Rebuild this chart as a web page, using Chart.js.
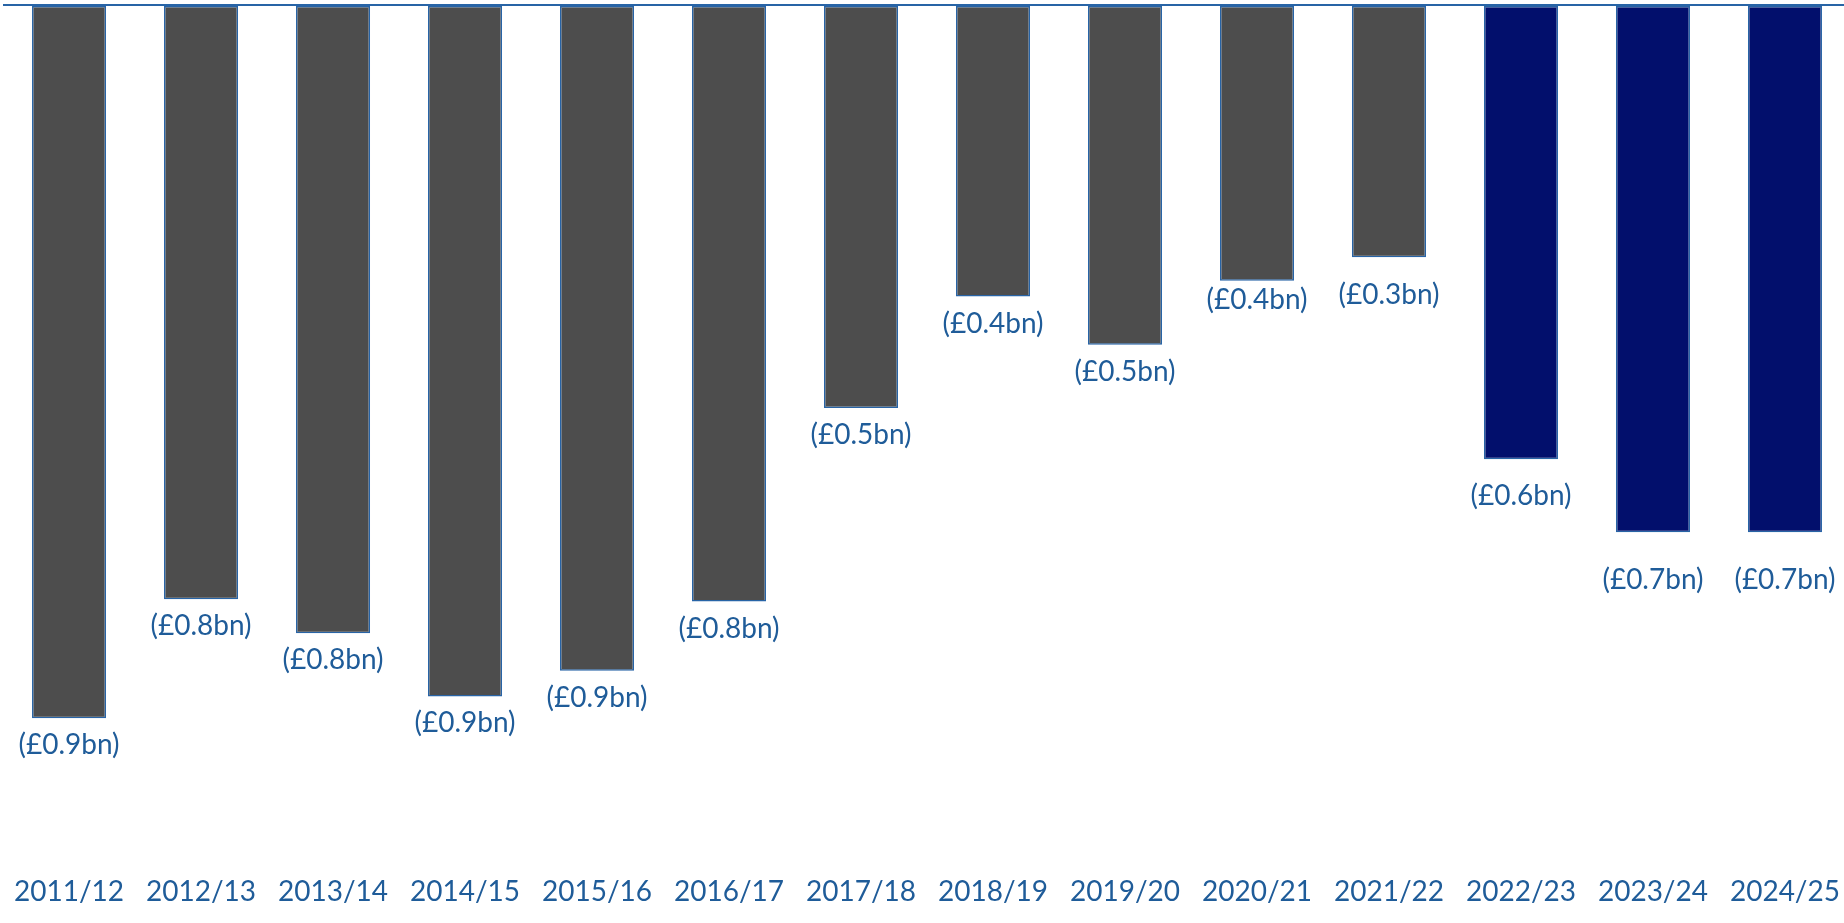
<!DOCTYPE html>
<html lang="en">
<head>
<meta charset="utf-8">
<title>Annual deficit, 2011/12 to 2024/25</title>
<script src="https://cdn.jsdelivr.net/npm/chart.js@4.4.1/dist/chart.umd.min.js"></script>
<style>
  html, body { margin: 0; padding: 0; background: #fff; overflow: hidden; }
  #wrap { position: relative; width: 1854px; height: 923px; }
</style>
</head>
<body>
<div id="wrap"><canvas id="deficit-chart"></canvas></div>
<script>
// Yearly shortfall in £bn (negative = deficit); the later years are shaded navy.
const seasons = ['2011/12', '2012/13', '2013/14', '2014/15', '2015/16', '2016/17', '2017/18',
  '2018/19', '2019/20', '2020/21', '2021/22', '2022/23', '2023/24', '2024/25'];
const deficitBn = [-0.947, -0.789, -0.834, -0.918, -0.884, -0.792, -0.535,
  -0.387, -0.451, -0.366, -0.335, -0.603, -0.700, -0.700];
const navyFrom = seasons.indexOf('2022/23');

// Extra vertical nudge (px) for a few value labels that sit lower / higher than the rest.
const labelNudge = [0, 0, 0, 0, 0, 0, 0, 0, 0, -8, 11, 10, 21, 21];

const GREY = '#4d4d4d';
const NAVY = '#020f6c';
const EDGE = '#2864a6';
const TEXT = '#1f5c99';
const FONT = 'Lato, "Noto Sans", sans-serif';

const fmtBn = (v) => `(£${Math.abs(v).toFixed(1)}bn)`;

const valueLabels = {
  id: 'valueLabels',
  afterDatasetsDraw(chart) {
    const { ctx } = chart;
    const meta = chart.getDatasetMeta(0);
    ctx.save();
    ctx.fillStyle = TEXT;
    ctx.font = `28px ${FONT}`;
    ctx.textAlign = 'center';
    ctx.textBaseline = 'middle';
    meta.data.forEach((bar, i) => {
      ctx.fillText(fmtBn(deficitBn[i]), bar.x, bar.y + 27 + labelNudge[i]);
    });
    ctx.restore();
  },
};

new Chart(document.getElementById('deficit-chart'), {
  type: 'bar',
  data: {
    labels: seasons,
    datasets: [{
      data: deficitBn,
      backgroundColor: deficitBn.map((_, i) => (i >= navyFrom ? NAVY : GREY)),
      borderColor: EDGE,
      borderWidth: 1.5,
      borderSkipped: false,
      categoryPercentage: 1,
      barPercentage: 0.561,
    }],
  },
  options: {
    responsive: true, maintainAspectRatio: false,
    animation: false,
    layout: { padding: { left: 3, right: 0, top: 5, bottom: 0 } },
    plugins: { legend: { display: false }, tooltip: { enabled: false } },
    scales: {
      x: {
        grid: { display: false, drawTicks: false },
        border: { display: false },
        ticks: { color: TEXT, padding: 14, autoSkip: false, maxRotation: 0, font: { family: FONT, size: 28 } },
      },
      y: {
        min: -1.137, max: 0,
        ticks: { display: false, stepSize: 0.2 },
        border: { display: false },
        grid: {
          drawTicks: false,
          lineWidth: 2,
          color: (c) => (c.tick && c.tick.value === 0 ? EDGE : 'transparent'),
        },
      },
    },
  },
  plugins: [valueLabels],
});
</script>
</body>
</html>
